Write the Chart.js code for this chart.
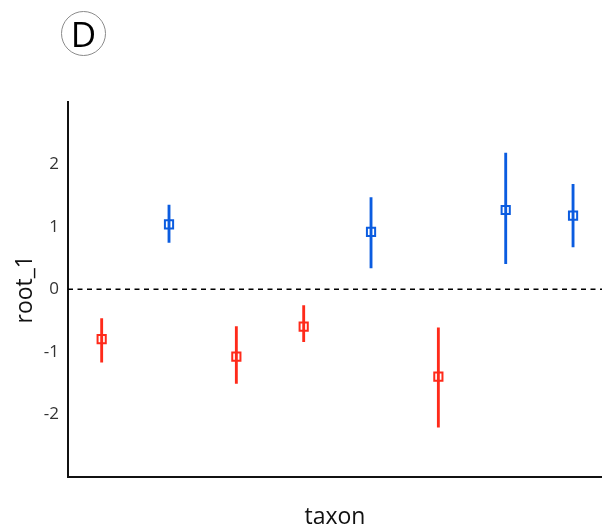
<!DOCTYPE html>
<html>
<head>
<meta charset="utf-8">
<script src="https://cdn.jsdelivr.net/npm/chart.js@4"></script>
<style>
  html, body { margin: 0; padding: 0; background: #fff; overflow: hidden; }
  #wrap { position: relative; width: 602px; height: 529px; }
  #badge {
    position: absolute; left: 61px; top: 11px; width: 45px; height: 45px;
    border: 1px solid #8a8a8a; border-radius: 50%; box-sizing: border-box;
    font: 35px "Open Sans", sans-serif; color: #000;
    display: flex; align-items: center; justify-content: center; line-height: 1;
  }
</style>
</head>
<body>
<div id="wrap">
  <canvas id="chart"></canvas>
  <div id="badge">D</div>
</div>
<script>
// ====== DATA ======
const taxa   = [1, 2, 3, 4, 5, 6, 7, 8];
const means  = [-0.80, 1.04, -1.08, -0.60, 0.92, -1.40, 1.27, 1.18];
const lower  = [-1.17, 0.75, -1.51, -0.84, 0.34, -2.21, 0.41, 0.68];
const upper  = [-0.47, 1.35, -0.60, -0.26, 1.47, -0.62, 2.18, 1.68];
const groups = ['neg', 'pos', 'neg', 'neg', 'pos', 'neg', 'pos', 'pos'];
const yTicks = [-2, -1, 0, 1, 2];
const REF_LINE = 0;

const COLORS = { neg: '#ff2a1a', pos: '#0b5ce0' };
const pointColors = groups.map(g => COLORS[g]);
const FONT = '"Open Sans", sans-serif';

// dashed reference line at y = 0
const refLine = {
  id: 'refLine',
  beforeDatasetsDraw(chart) {
    const { ctx, chartArea, scales } = chart;
    const y = scales.y.getPixelForValue(REF_LINE);
    ctx.save();
    ctx.strokeStyle = '#000';
    ctx.lineWidth = 1.5;
    ctx.setLineDash([5, 4.5]);
    ctx.beginPath();
    ctx.moveTo(chartArea.left, y);
    ctx.lineTo(chartArea.right, y);
    ctx.stroke();
    ctx.restore();
  }
};

new Chart(document.getElementById('chart'), {
  type: 'bar',
  data: {
    datasets: [
      {
        type: 'scatter',
        data: taxa.map((t, i) => ({ x: t, y: means[i] })),
        pointStyle: 'rect',
        pointRadius: 5.8,
        pointBorderWidth: 2,
        pointBorderColor: pointColors,
        pointBackgroundColor: 'rgba(0,0,0,0)',
        order: 0
      },
      {
        type: 'bar',
        data: taxa.map((t, i) => ({ x: t, y: [lower[i], upper[i]] })),
        backgroundColor: pointColors,
        barThickness: 2.2,
        borderWidth: 0,
        order: 1
      }
    ]
  },
  options: {
    responsive: true, maintainAspectRatio: false, animation: false,
    layout: { autoPadding: false, padding: { top: 102, left: 0, right: 0, bottom: 0 } },
    plugins: { legend: { display: false }, tooltip: { enabled: false } },
    scales: {
      x: {
        type: 'linear', min: 0.5, max: 8.43, offset: false,
        grid: { display: false, drawTicks: false },
        border: { display: true, color: '#111', width: 2 },
        ticks: { display: false },
        title: { display: true, text: 'taxon', color: '#111', padding: 0,
                 font: { family: FONT, size: 23, lineHeight: 1 } },
        afterFit: s => { s.height = 52.5; }
      },
      y: {
        min: -3, max: 3,
        afterBuildTicks: s => { s.ticks = yTicks.map(v => ({ value: v })); },
        grid: { display: false, drawTicks: false },
        border: { display: true, color: '#111', width: 2 },
        ticks: { color: '#333', padding: 9, font: { family: FONT, size: 17 } },
        title: { display: true, text: 'root_1', color: '#111', padding: { top: 14, bottom: 0 },
                 font: { family: FONT, size: 23, lineHeight: 1 } },
        afterFit: s => { s.width = 68; }
      }
    }
  },
  plugins: [refLine]
});
</script>
</body>
</html>
